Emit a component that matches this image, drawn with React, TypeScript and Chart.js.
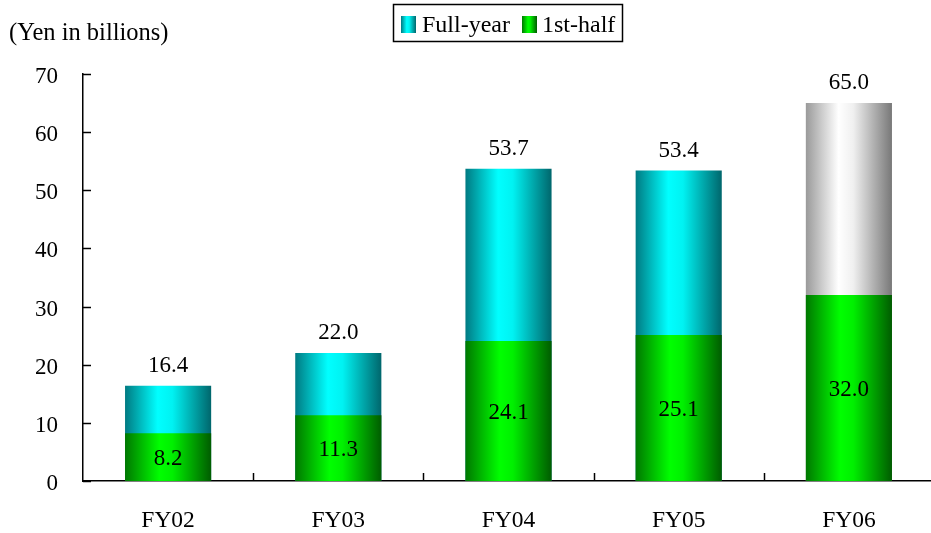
import React, { useEffect, useRef } from "react";
import { Chart, registerables } from "chart.js";

Chart.register(...registerables);

const categories = ["FY02", "FY03", "FY04", "FY05", "FY06"];
const firstHalf = [8.2, 11.3, 24.1, 25.1, 32.0];
const fullYear = [16.4, 22.0, 53.7, 53.4, 65.0];
const forecastIndex = 4;
const yTicks = [0, 10, 20, 30, 40, 50, 60, 70];
const unitLabel = "(Yen in billions)";
const legendLabels = ["Full-year", "1st-half"];

const FONT = "'Liberation Serif', 'Times New Roman', serif";
const FS = 23;
const BAR_PCT = 0.506;

type Stops = [number, string][];
const cyanStops: Stops = [[0, "#007a82"], [0.38, "#00ffff"], [0.55, "#00f2f2"], [1, "#00666c"]];
const greenStops: Stops = [[0, "#007800"], [0.4, "#00ff00"], [0.55, "#00f000"], [1, "#005c00"]];
const grayStops: Stops = [[0, "#9a9a9a"], [0.38, "#ffffff"], [0.55, "#f0f0f0"], [1, "#787878"]];

function grad(ctx: CanvasRenderingContext2D, x0: number, x1: number, stops: Stops) {
  const g = ctx.createLinearGradient(x0, 0, x1, 0);
  stops.forEach(([o, c]) => g.addColorStop(o, c));
  return g;
}

function barFill(stopsFor: (i: number) => Stops) {
  return (context: any) => {
    const chart = context.chart;
    const xs = chart.scales?.x;
    if (!xs || !chart.chartArea) return stopsFor(context.dataIndex)[1][1];
    const i = context.dataIndex;
    const cx = xs.getPixelForValue(i);
    const w = (xs.width / categories.length) * BAR_PCT;
    return grad(chart.ctx, cx - w / 2, cx + w / 2, stopsFor(i));
  };
}

const decorPlugin = {
  id: "decor",
  afterDraw(chart: any) {
    const ctx = chart.ctx as CanvasRenderingContext2D;
    const xs = chart.scales.x;
    const ys = chart.scales.y;
    const area = chart.chartArea;
    ctx.save();
    ctx.strokeStyle = "#000";
    ctx.lineWidth = 1.5;
    yTicks.forEach((v) => {
      const y = Math.round(ys.getPixelForValue(v)) + 0.5;
      ctx.beginPath();
      ctx.moveTo(area.left, y);
      ctx.lineTo(area.left + 8, y);
      ctx.stroke();
    });
    const cw = xs.width / categories.length;
    for (let k = 1; k < categories.length; k++) {
      const x = Math.round(area.left + k * cw) + 0.5;
      ctx.beginPath();
      ctx.moveTo(x, area.bottom);
      ctx.lineTo(x, area.bottom - 8);
      ctx.stroke();
    }
    ctx.fillStyle = "#000";
    ctx.textAlign = "left";
    ctx.textBaseline = "alphabetic";
    ctx.font = `24.5px ${FONT}`;
    ctx.fillText(unitLabel, 9, 40);
    ctx.lineWidth = 1.5;
    ctx.strokeRect(393.5, 4.5, 229, 37);
    ctx.fillStyle = grad(ctx, 401, 416, cyanStops);
    ctx.fillRect(401, 16, 15, 17);
    ctx.fillStyle = grad(ctx, 522, 537, greenStops);
    ctx.fillRect(522, 16, 15, 17);
    ctx.fillStyle = "#000";
    ctx.font = `24px ${FONT}`;
    ctx.fillText(legendLabels[0], 422, 32);
    ctx.fillText(legendLabels[1], 542, 32);
    ctx.font = `${FS}px ${FONT}`;
    ctx.textAlign = "center";
    const metaFirst = chart.getDatasetMeta(0);
    const metaFull = chart.getDatasetMeta(1);
    metaFull.data.forEach((el: any, i: number) => {
      ctx.textBaseline = "alphabetic";
      ctx.fillText(fullYear[i].toFixed(1), el.x, el.y - 14);
    });
    metaFirst.data.forEach((el: any, i: number) => {
      ctx.textBaseline = "middle";
      ctx.fillText(firstHalf[i].toFixed(1), el.x, (el.y + el.base) / 2 + 2);
    });
    ctx.restore();
  },
};

export default function App() {
  const ref = useRef<HTMLCanvasElement | null>(null);
  useEffect(() => {
    if (!ref.current) return;
    const chart = new Chart(ref.current, {
      type: "bar",
      data: {
        labels: categories,
        datasets: [
          {
            label: legendLabels[1],
            data: firstHalf,
            backgroundColor: barFill(() => greenStops),
            grouped: false,
            barPercentage: BAR_PCT,
            categoryPercentage: 1,
            borderWidth: 0,
          } as any,
          {
            label: legendLabels[0],
            data: fullYear,
            backgroundColor: barFill((i) => (i === forecastIndex ? grayStops : cyanStops)),
            grouped: false,
            barPercentage: BAR_PCT,
            categoryPercentage: 1,
            borderWidth: 0,
          } as any,
        ],
      },
      options: {
        responsive: false,
        animation: false,
        devicePixelRatio: 1,
        layout: { padding: { left: 0, right: 6, top: 74, bottom: 0 } },
        plugins: { legend: { display: false }, tooltip: { enabled: false }, title: { display: false } },
        scales: {
          x: {
            grid: { display: false, drawTicks: false },
            border: { display: true, color: "#000", width: 1.5 },
            ticks: { color: "#000", font: { family: FONT, size: 23.5 }, padding: 26, maxRotation: 0 },
            afterFit: (s: any) => {
              s.height = 52;
            },
          },
          y: {
            min: 0,
            max: 70,
            grid: { display: false, drawTicks: false },
            border: { display: true, color: "#000", width: 1.5 },
            ticks: { stepSize: 10, color: "#000", font: { family: FONT, size: FS }, padding: 25, labelOffset: 3 },
            afterFit: (s: any) => {
              s.width = 83;
            },
          },
        },
      },
      plugins: [decorPlugin],
    });
    return () => chart.destroy();
  }, []);
  return (
    <div style={{ position: "fixed", left: 0, top: 0, width: 931, height: 533, overflow: "hidden", background: "#fff" }}>
      <canvas ref={ref} width={940} height={533} style={{ display: "block" }} />
    </div>
  );
}
